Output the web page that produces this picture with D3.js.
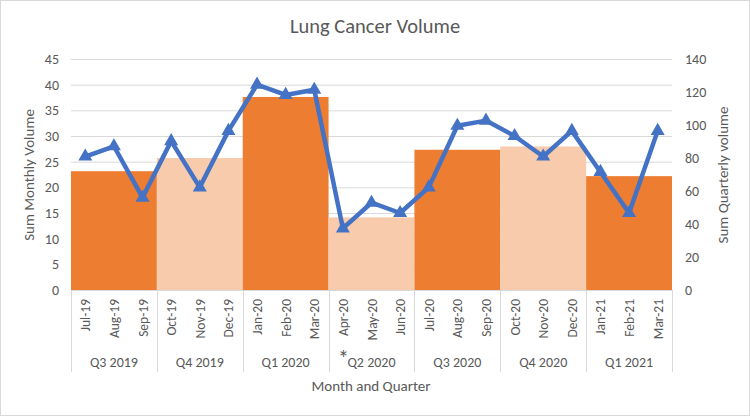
<!DOCTYPE html>
<html><head><meta charset="utf-8">
<script src="https://cdn.jsdelivr.net/npm/d3@7"></script>
<style>
html,body{margin:0;padding:0;background:#fff;}
svg{display:block;font-family:Carlito,Calibri,Lato,"Open Sans",sans-serif;}
</style></head>
<body><svg id="c" width="750" height="416"></svg>
<script>
const months = ["Jul-19","Aug-19","Sep-19","Oct-19","Nov-19","Dec-19","Jan-20","Feb-20","Mar-20","Apr-20","May-20","Jun-20","Jul-20","Aug-20","Sep-20","Oct-20","Nov-20","Dec-20","Jan-21","Feb-21","Mar-21"];
const monthlyVolume = [26,28,18,29,20,31,40,38,39,12,17,15,20,32,33,30,26,31,23,15,31];
const quarters = ["Q3 2019","Q4 2019","Q1 2020","Q2 2020","Q3 2020","Q4 2020","Q1 2021"];
const quarterlyVolume = [72,80,117,44,85,87,69];
const quarterShade = ["dark","light","dark","light","dark","light","dark"];
const leftTicks = [0,5,10,15,20,25,30,35,40,45];
const rightTicks = [0,20,40,60,80,100,120,140];

const svg = d3.select("#c");
const W=750,H=416;
const L=71,R=672,T=59,B=290;
const grey="#595959";
svg.append("rect").attr("x",0.5).attr("y",0.5).attr("width",W-1).attr("height",H-1).attr("fill","#fff").attr("stroke","#D9D9D9");

const x = d3.scaleBand().domain(months).range([L,R]).padding(0);
const yL = d3.scaleLinear().domain([0,45]).range([B,T]);
const yR = d3.scaleLinear().domain([0,140]).range([B,T]);

// gridlines
svg.append("g").selectAll("line").data(leftTicks).join("line")
  .attr("x1",L).attr("x2",R).attr("y1",d=>yL(d)+0.5).attr("y2",d=>yL(d)+0.5)
  .attr("stroke","#D9D9D9").attr("stroke-width",1);

// bars
const colors={dark:"#ED7D31",light:"#F8CBAD"};
svg.append("g").selectAll("rect").data(quarters).join("rect")
  .attr("x",(q,i)=>x(months[i*3]))
  .attr("width",(q,i)=>x(months[i*3+2])+x.bandwidth()-x(months[i*3]))
  .attr("y",(q,i)=>yR(quarterlyVolume[i]))
  .attr("height",(q,i)=>yR(0)-yR(quarterlyVolume[i]))
  .attr("fill",(q,i)=>colors[quarterShade[i]]);

// line
const cx = m=>x(m)+x.bandwidth()/2;
svg.append("path").datum(months)
  .attr("d",d3.line().x(m=>cx(m)).y((m,i)=>yL(monthlyVolume[i])))
  .attr("fill","none").attr("stroke","#4472C4").attr("stroke-width",4.5).attr("stroke-linejoin","round");
svg.append("g").selectAll("path").data(months).join("path")
  .attr("d",d3.symbol(d3.symbolTriangle,85))
  .attr("transform",(m,i)=>`translate(${cx(m)},${yL(monthlyVolume[i])})`)
  .attr("fill","#4472C4");

const tickFont="Carlito,Calibri,Lato,sans-serif";
// axes
const axL = d3.axisLeft(yL).tickValues(leftTicks).tickSize(0).tickPadding(0);
const gL = svg.append("g").attr("transform",`translate(${L-12},0)`).call(axL);
gL.select(".domain").remove();
gL.selectAll("text").attr("fill",grey).style("font-size","14px").style("font-family",tickFont);
const axR = d3.axisRight(yR).tickValues(rightTicks).tickSize(0).tickPadding(0);
const gR = svg.append("g").attr("transform",`translate(${R+13},0)`).call(axR);
gR.select(".domain").remove();
gR.selectAll("text").attr("fill",grey).style("font-size","14px").style("font-family",tickFont);

// baseline
svg.append("line").attr("x1",L).attr("x2",R).attr("y1",B+0.5).attr("y2",B+0.5).attr("stroke","#D9D9D9");

// quarter separators
const seps = quarters.map((q,i)=>x(months[i*3])).concat([R]);
svg.append("g").selectAll("line").data(seps).join("line")
  .attr("x1",d=>Math.round(d)+0.5).attr("x2",d=>Math.round(d)+0.5).attr("y1",B).attr("y2",372)
  .attr("stroke","#D9D9D9");

// month labels
svg.append("g").selectAll("text").data(months).join("text")
  .attr("transform",m=>`translate(${cx(m)+5},${299}) rotate(-90)`)
  .attr("text-anchor","end").attr("fill",grey).style("font-size","13.5px").text(m=>m);

// quarter labels
svg.append("g").selectAll("text").data(quarters).join("text")
  .attr("x",(q,i)=>x(months[i*3+1])+x.bandwidth()/2).attr("y",367)
  .attr("text-anchor","middle").attr("fill",grey).style("font-size","14px").text(q=>q);
svg.append("text").attr("x",343.5).attr("y",366).attr("text-anchor","middle").attr("fill",grey).style("font-size","22px").text("*");

// axis titles
svg.append("text").attr("x",371).attr("y",391).attr("text-anchor","middle").attr("fill",grey).style("font-size","15px").text("Month and Quarter");
svg.append("text").attr("transform",`translate(34,175) rotate(-90)`).attr("text-anchor","middle").attr("fill",grey).style("font-size","15px").text("Sum Monthly Volume");
svg.append("text").attr("transform",`translate(728,175) rotate(-90)`).attr("text-anchor","middle").attr("fill",grey).style("font-size","15px").text("Sum Quarterly volume");

// title
svg.append("text").attr("x",375).attr("y",33).attr("text-anchor","middle").attr("fill",grey).style("font-size","20.5px").text("Lung Cancer Volume");
</script></body></html>
